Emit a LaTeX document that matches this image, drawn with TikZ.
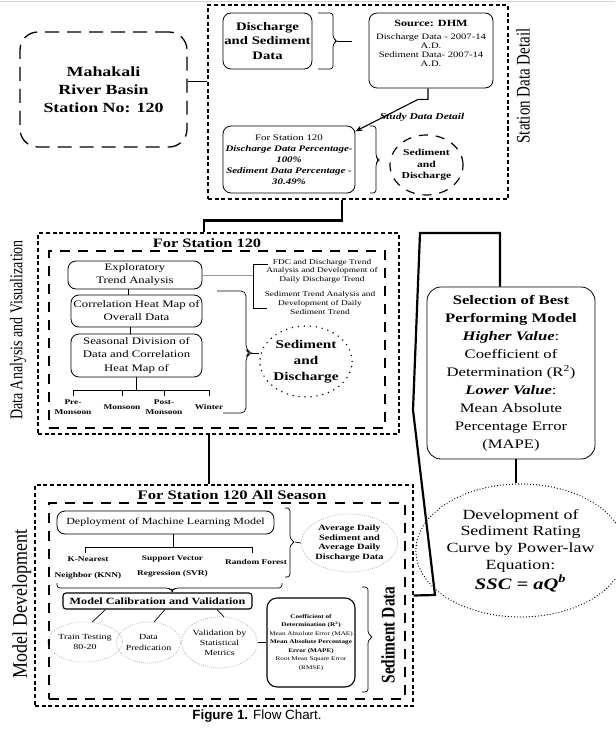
\documentclass[tikz,border=0pt]{standalone}
\usepackage{fontspec}
\setmainfont{Liberation Serif}[FakeStretch=1.28]
\newfontfamily\rotfont{Liberation Serif}
\newfontfamily\capfont{Liberation Sans}
\usetikzlibrary{shapes.geometric,arrows.meta}
\newcommand{\fsz}[2]{\fontsize{#1}{#2}\selectfont}
\begin{document}
\begin{tikzpicture}[x=1pt,y=-1pt,
  rbox/.style={draw, rounded corners=8pt, line width=0.8pt, align=center, inner sep=0pt},
  secbox/.style={draw, line width=1.1pt, dash pattern=on 4pt off 2.7pt, inner sep=0pt},
  inbox/.style={draw, line width=1.2pt, dash pattern=on 10pt off 8pt, inner sep=0pt},
  thickline/.style={line width=2.4pt},
  ln/.style={line width=0.7pt},
  brc/.style={line width=0.7pt, rounded corners=3pt},
  dotell/.style={ellipse, draw=gray!80, line width=0.7pt, dash pattern=on 0.6pt off 1.4pt, align=center, inner sep=0pt},
  bigdot/.style={ellipse, draw, line width=1.6pt, dash pattern=on 0pt off 6pt, line cap=round, align=center, inner sep=0pt},
  rotlab/.style={rotate=90, inner sep=0pt},
  lab/.style={font=\fsz{7.3}{10}\bfseries, align=center, inner sep=0pt},
  labb/.style={font=\fsz{7.3}{15.5}\bfseries, align=center, inner sep=0pt},
  small/.style={font=\fsz{7.3}{8.6}, align=center, inner sep=0pt},
]
\useasboundingbox (0,0) rectangle (615,738);
\draw[gray!35, line width=0.8pt] (0,1.5) -- (615,1.5);

% ---------------- Station data detail ----------------
\node[draw, rounded corners=18pt, line width=1.3pt, dash pattern=on 14pt off 8pt,
      minimum width=167pt, minimum height=115pt, align=center, inner sep=0pt,
      font=\fsz{14}{18}\bfseries] (mah) at (103.5,89.5) {Mahakali\\River Basin\\Station No: 120};
\node[secbox, minimum width=300pt, minimum height=194pt] (sdd) at (358,102) {};
\draw[ln] (mah.east |- 0,81) -- (sdd.west |- 0,81);
\node[rotlab] (sdl) at (523,86) {\scalebox{1}[1.28]{\rotfont\fsz{15}{18}Station Data Detail}};

\node[rbox, minimum width=89pt, minimum height=56pt, font=\fsz{11.5}{14.5}\bfseries] (dsd) at (267.5,41) {Discharge\\and Sediment\\Data};
\draw[brc] (318,13) -- (333,13) -- (333,38) -- (337,41) -- (333,44) -- (333,69) -- (318,69);
\coordinate (b1) at (337,41);
\coordinate (b1e) at (352,41);
\draw[ln] (b1) -- (b1e);

\node[rbox, minimum width=124pt, minimum height=75pt] (src) at (431,50.5) {};
\node[align=center, inner sep=0pt, font=\fsz{8.3}{9}] (srct) at (431,43) {{\fsz{9.5}{9}\bfseries Source: DHM}\\[4pt]Discharge Data - 2007-14\\A.D.\\Sediment Data- 2007-14\\A.D.};

\node[rbox, minimum width=132pt, minimum height=67pt, font=\fsz{8.5}{11}] (st) at (289,159.5) {For Station 120\\\textbf{\textit{Discharge Data Percentage-}}\\\textbf{\textit{100\%}}\\\textbf{\textit{Sediment Data Percentage -}}\\\textbf{\textit{30.49\%}}};
\draw[line width=1.1pt, -{Stealth[length=7pt,width=5.5pt]}] ([xshift=-3pt]src.south) -- ++(0,11) -- ++(-10,0) -- (st.23);
\node[font=\fsz{9}{11}\bfseries\itshape, inner sep=0pt] (sdt) at (422,117) {Study Data Detail};

\draw[brc] (370,126) -- (376,126) -- (376,157) -- (379,160) -- (376,163) -- (376,193) -- (370,193);
\node[ellipse, draw, line width=1.2pt, dash pattern=on 9pt off 8pt, minimum width=73pt, minimum height=60pt,
      inner sep=0pt, align=center, font=\fsz{9.1}{11.7}\bfseries] (sd1) at (426.5,165) {Sediment\\and\\Discharge};

% ---------------- Data analysis ----------------
\node[secbox, minimum width=361pt, minimum height=201pt] (da) at (218.5,333.5) {};
\node[inbox, minimum width=336pt, minimum height=177pt] (dain) at (217,339.5) {};
\draw[thickline] ([xshift=-16pt]sdd.south) -- ++(0,21) -| ([xshift=-14.5pt]da.north);
\node[font=\fsz{12.8}{15}\bfseries, inner sep=0pt] (dat) at (207,243) {For Station 120};
\node[rotlab] (dal) at (18,330) {\scalebox{1}[1.28]{\rotfont\fsz{14}{16}Data Analysis and Visualization}};

\node[rbox, minimum width=134pt, minimum height=28pt, font=\fsz{9.9}{13}] (eta) at (135,275) {Exploratory\\Trend Analysis};
\node[rbox, minimum width=131pt, minimum height=32pt, font=\fsz{10}{13}] (chm) at (136.5,311) {Correlation Heat Map of\\Overall Data};
\node[rbox, minimum width=131pt, minimum height=43pt, font=\fsz{10}{13.3}] (sdc) at (136.5,355.5) {Seasonal Division of\\Data and Correlation\\Heat Map of};
\draw[ln] ([xshift=-7pt]eta.south) -- ([xshift=-8.5pt]chm.north);
\draw[ln] ([xshift=-6.5pt]chm.south) -- ([xshift=-6.5pt]sdc.north);

\node[lab] (pre) at (73,407) {Pre-\\Monsoon};
\node[lab] (mon) at (122,407) {Monsoon};
\node[lab] (post) at (164,407) {Post-\\Monsoon};
\node[lab] (win) at (209,407) {Winter};
\coordinate (tr) at (136,390);
\draw[ln] (sdc.south -| tr) -- (tr);
\draw[ln] (pre.north |- tr) -- (win.north |- tr);
\foreach \n in {pre,mon,post,win} \draw[ln] (\n.north |- tr) -- ++(0,6);

\coordinate (brk) at (253,275);
\draw[ln, gray!80] (eta.east) -- (brk);
\draw[ln] (268,264) -- (253,264) -- (253,308) -- (267,308);
\node[small] (fdc) at (322,271) {FDC and Discharge Trend\\Analysis and Development of\\Daily Discharge Trend};
\node[small] (sedt) at (320,303) {Sediment Trend Analysis and\\Development of Daily\\Sediment Trend};

\draw[brc, rounded corners=5pt] (217,291) -- (246,291) -- (246,350) -- (251,353) -- (246,356) -- (246,413) -- (223,413);
\coordinate (b3) at (251,353);
\node[bigdot, minimum width=86pt, minimum height=71pt, font=\fsz{11.9}{16}\bfseries] (sd2) at (306,361.5) {Sediment\\and\\Discharge};
\draw[ln] (b3) -- (b3 -| sd2.west);

% ---------------- Model development ----------------
\node[secbox, minimum width=378pt, minimum height=221pt] (md) at (224,595.5) {};
\node[inbox, minimum width=356pt, minimum height=196pt] (mdin) at (227,601) {};
\draw[thickline] ([xshift=-9.5pt]da.south) -- ([xshift=-9.5pt]da.south |- md.north);
\node[font=\fsz{13}{15}\bfseries, inner sep=0pt] (mdt) at (232,495) {For Station 120 All Season};
\node[rotlab] (mdl) at (22,604) {\scalebox{1}[1.15]{\rotfont\fsz{18}{20}Model Development}};

\node[rbox, minimum width=217pt, minimum height=23pt, font=\fsz{9.4}{12}] (dep) at (165.5,522.5) {Deployment of Machine Learning Model};
\node[labb] (knn) at (88,568) {K-Nearest\\Neighbor (KNN)};
\node[labb, font=\fsz{7.3}{15}\bfseries] (svr) at (172.5,566) {Support Vector\\Regression (SVR)};
\node[lab] (rf) at (256,562) {Random Forest};
\coordinate (tr2) at (173,547);
\coordinate (t2l) at (85,547);
\coordinate (t2r) at (252,547);
\draw[ln] (dep.south -| tr2) -- (tr2);
\draw[ln] ([yshift=-6pt]t2l) -- (t2l) -- (t2r) -- ([yshift=-6pt]t2r);

\draw[brc] (285,508) -- (290,508) -- (290,539) -- (295,542) -- (290,545) -- (290,577) -- (285,577);
\coordinate (b4) at (295,542);
\node[dotell, minimum width=85pt, minimum height=58pt, font=\fsz{8.1}{9.8}\bfseries] (avg) at (349.5,543) {Average Daily\\Sediment and\\Average Daily\\Discharge Data};
\draw[ln] (b4) -- (avg.west);

\draw[brc] (57,583) -- (57,588) -- (169,588) -- (172,591) -- (175,588) -- (282,588) -- (282,583);
\coordinate (b5) at (172,591);
\node[draw, rounded corners=3pt, line width=1.1pt, minimum width=189pt, minimum height=16pt, inner sep=0pt,
      font=\fsz{9.5}{12}\bfseries] (mcv) at (157.5,601) {Model Calibration and Validation};
\draw[ln] (b5) -- (b5 |- mcv.north);

\node[dotell, minimum width=56pt, minimum height=40pt, font=\fsz{7.8}{10.5}] (tt) at (85,642) {Train Testing\\80-20};
\node[dotell, minimum width=53pt, minimum height=41pt, font=\fsz{7.8}{10.5}] (dp) at (148.5,642.5) {Data\\Predication};
\node[dotell, minimum width=65pt, minimum height=51pt, font=\fsz{7.8}{10}] (vsm) at (219.5,642.5) {Validation by\\Statistical\\Metrics};
\draw[ln] ([xshift=-52pt]mcv.south) -- (tt.70);
\draw[ln] ([xshift=7.5pt]mcv.south) -- (dp.75);
\draw[ln] ([xshift=59.5pt]mcv.south) -- (vsm.80);

\node[rbox, rounded corners=10pt, line width=1.1pt, minimum width=88pt, minimum height=89pt, font=\fsz{5.6}{8.5}] (met) at (311,642.5)
  {\textbf{Coefficient of}\\\textbf{Determination (R\textsuperscript{2})}\\Mean Absolute Error (MAE)\\\textbf{Mean Absolute Percentage}\\\textbf{Error (MAPE)}\\Root Mean Square Error\\(RMSE)};
\draw[ln] (vsm.east) -- (met.west);

\draw[brc] (362,587) -- (368,587) -- (368,634) -- (373,637) -- (368,640) -- (368,692) -- (362,692);
\node[rotlab] (sdl2) at (388,635) {\scalebox{1}[1.25]{\rotfont\fsz{15.4}{17}\bfseries Sediment Data}};

% ---------------- Right column ----------------
\node[rbox, rounded corners=14pt, minimum width=168pt, minimum height=172pt, font=\fsz{13}{18}] (sel) at (511,373)
  {\textbf{Selection of Best}\\\textbf{Performing Model}\\\textbf{\textit{Higher Value}}:\\Coefficient of\\Determination (R\textsuperscript{2})\\\textbf{\textit{Lower Value}}:\\Mean Absolute\\Percentage Error\\(MAPE)};
\node[bigdot, line width=1.3pt, dash pattern=on 0pt off 3pt, minimum width=157pt, minimum height=133pt, font=\fsz{14}{16.7}] (ssc) at (520.5,550.5)
  {Development of\\Sediment Rating\\Curve by Power-law\\Equation:\\[2pt]{\fsz{16}{18}\bfseries\itshape SSC = aQ\textsuperscript{b}}};
\draw[thickline, line width=2.2pt] (md.east) -- (435,595) -- (413,410) -- (420,233) -| ([xshift=-11pt]sel.north);
\draw[thickline, line width=2.2pt] ([xshift=5pt]sel.south) -- ([xshift=5pt]sel.south |- ssc.north);

% ---------------- Caption ----------------
\node[font=\capfont\fsz{13.4}{16}, inner sep=0pt] (cap) at (257,716) {\textbf{Figure 1.} Flow Chart.};
\end{tikzpicture}
\end{document}
